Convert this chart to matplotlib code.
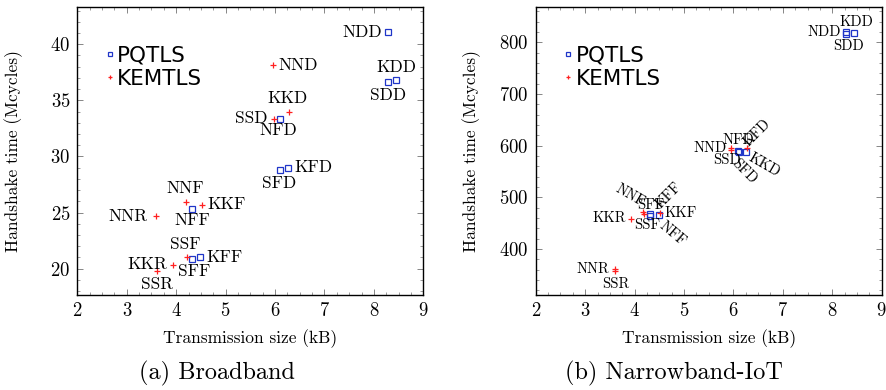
import matplotlib
matplotlib.use('Agg')
import matplotlib.pyplot as plt
from matplotlib.ticker import MultipleLocator

plt.rcParams['font.family'] = ['cmr10', 'DejaVu Serif']
plt.rcParams['mathtext.fontset'] = 'cm'
plt.rcParams['axes.formatter.use_mathtext'] = True

# (a) Broadband - transmission size (kB), handshake time (Mcycles)
bb_pq_names = ['NDD', 'KDD', 'SDD', 'NFD', 'SFD', 'KFD', 'NFF', 'SFF', 'KFF']
bb_pq_size = [8.28, 8.45, 8.29, 6.10, 6.11, 6.27, 4.32, 4.33, 4.49]
bb_pq_time = [41.1, 36.8, 36.6, 33.35, 28.8, 29.0, 25.35, 20.85, 21.0]

bb_kem_names = ['NND', 'KKD', 'SSD', 'NNF', 'KKF', 'NNR', 'SSF', 'KKR', 'SSR']
bb_kem_size = [5.95, 6.29, 5.97, 4.19, 4.52, 3.59, 4.21, 3.93, 3.61]
bb_kem_time = [38.15, 34.0, 33.35, 25.95, 25.7, 24.7, 21.0, 20.35, 19.8]

# (b) Narrowband-IoT
nb_pq_names = ['NDD', 'KDD', 'SDD', 'NFD', 'SFD', 'KFD', 'NFF', 'SFF', 'KFF']
nb_pq_size = [8.27, 8.44, 8.28, 6.10, 6.11, 6.26, 4.31, 4.32, 4.49]
nb_pq_time = [820, 818, 816, 590, 587, 588, 467, 464, 466]

nb_kem_names = ['NND', 'KKD', 'SSD', 'NNF', 'KKF', 'NNR', 'SSF', 'KKR', 'SSR']
nb_kem_size = [5.95, 6.28, 5.96, 4.18, 4.52, 3.60, 4.19, 3.93, 3.61]
nb_kem_time = [595, 595, 591, 471, 470, 362, 467, 459, 357]

# label placement: offset in points, ha, va, rotation
bb_place = {
    'NDD': ((-4, 0), 'right', 'center', 0), 'KDD': ((0, 4), 'center', 'bottom', 0),
    'SDD': ((0, -4), 'center', 'top', 0), 'NFD': ((-1, -3), 'center', 'top', 0),
    'SFD': ((-1, -4), 'center', 'top', 0), 'KFD': ((4, 0), 'left', 'center', 0),
    'NFF': ((0, -3), 'center', 'top', 0), 'SFF': ((1, -3), 'center', 'top', 0),
    'KFF': ((4, 0), 'left', 'center', 0), 'NND': ((4, 0), 'left', 'center', 0),
    'KKD': ((-1, 4), 'center', 'bottom', 0), 'SSD': ((-4, 0), 'right', 'center', 0),
    'NNF': ((0, 4), 'center', 'bottom', 0), 'KKF': ((4, 0), 'left', 'center', 0),
    'NNR': ((-6, 0), 'right', 'center', 0), 'SSF': ((-1, 4), 'center', 'bottom', 0),
    'KKR': ((-4, 0), 'right', 'center', 0), 'SSR': ((0, -4), 'center', 'top', 0),
}
nb_place = {
    'NDD': ((-3, 0), 'right', 'center', 0), 'KDD': ((2, 3), 'center', 'bottom', 0),
    'SDD': ((2, -4), 'center', 'top', 0), 'NFD': ((0, 3), 'center', 'bottom', 0),
    'SFD': ((0, -3), 'left', 'top', -45), 'KFD': ((3, 2), 'left', 'bottom', 45),
    'NFF': ((11, -3), 'left', 'top', -40), 'SFF': ((0, 3), 'center', 'bottom', 0),
    'KFF': ((3, 3), 'left', 'bottom', 45), 'NND': ((-3, 0), 'right', 'center', 0),
    'KKD': ((4, -2), 'left', 'top', -30), 'SSD': ((7, -2), 'right', 'top', 0),
    'NNF': ((-2, 2), 'right', 'bottom', -30), 'KKF': ((3, 0), 'left', 'center', 0),
    'NNR': ((-4, 0), 'right', 'center', 0), 'SSF': ((2, -3), 'center', 'top', 0),
    'KKR': ((-4, 0), 'right', 'center', 0), 'SSR': ((0, -4), 'center', 'top', 0),
}


def draw(ax, pq, kem, place, fs, ylim, ymaj, ymin):
    ax.plot(pq[1], pq[2], 's', ms=4.2, mfc='none', mec='#1f35c8', mew=0.9, ls='none', label='PQTLS')
    ax.plot(kem[1], kem[2], '+', ms=4.2, mec='#ff2020', mew=0.9, ls='none', label='KEMTLS')
    for names, xs, ys in (pq, kem):
        for n, x, y in zip(names, xs, ys):
            off, ha, va, rot = place[n]
            ax.annotate(n, (x, y), xytext=off, textcoords='offset points',
                        ha=ha, va=va, rotation=rot, fontsize=fs,
                        rotation_mode='anchor')
    ax.set_xlim(2, 9)
    ax.set_ylim(*ylim)
    ax.xaxis.set_major_locator(MultipleLocator(1))
    ax.xaxis.set_minor_locator(MultipleLocator(0.25))
    ax.yaxis.set_major_locator(MultipleLocator(ymaj))
    ax.yaxis.set_minor_locator(MultipleLocator(ymin))
    ax.tick_params(which='both', direction='in', top=True, right=True, color='0.45', labelsize=13.5)
    ax.tick_params(which='major', length=4.5, width=0.6, pad=5)
    ax.tick_params(which='minor', length=2.5, width=0.5)
    for s in ax.spines.values():
        s.set_linewidth(1.0)
    ax.set_xlabel('Transmission size (kB)', fontsize=12.5)
    ax.set_ylabel('Handshake time (Mcycles)', fontsize=12.5)
    ax.xaxis.set_label_coords(0.5, -0.118)
    ax.yaxis.set_label_coords(-0.158, 0.5)
    ax.legend(loc='upper left', bbox_to_anchor=(0.053, 0.898), frameon=False,
              handletextpad=0.1, handlelength=0.5, borderaxespad=0.0,
              labelspacing=0.17, markerscale=0.85, prop={'family': 'DejaVu Sans', 'size': 15.5})


fig = plt.figure(figsize=(8.87, 3.90), dpi=100)
ax1 = fig.add_axes([0.0872, 0.2436, 0.390, 0.738])
ax2 = fig.add_axes([0.604, 0.2436, 0.390, 0.738])

draw(ax1, (bb_pq_names, bb_pq_size, bb_pq_time), (bb_kem_names, bb_kem_size, bb_kem_time),
     bb_place, 12.5, (17.65, 43.3), 5, 1)
draw(ax2, (nb_pq_names, nb_pq_size, nb_pq_time), (nb_kem_names, nb_kem_size, nb_kem_time),
     nb_place, 10.5, (311, 868), 100, 20)

fig.text(216.7 / 887, 1 - 373 / 390, '(a) Broadband', ha='center', va='center', fontsize=17.5)
fig.text(674 / 887, 1 - 373 / 390, '(b) Narrowband-IoT', ha='center', va='center', fontsize=17.5)

fig.savefig('out.png', dpi=100)
